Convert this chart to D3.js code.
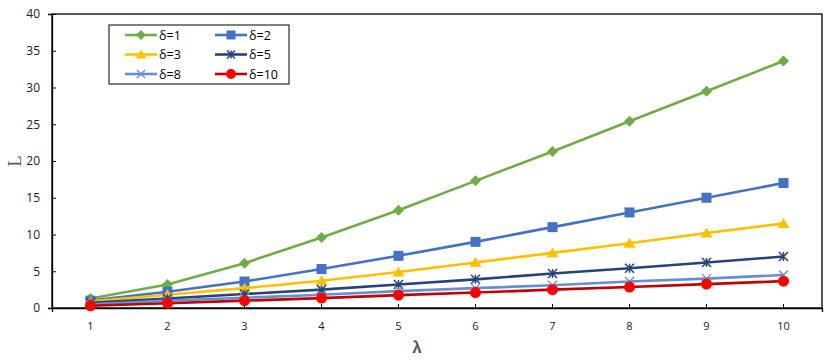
<!DOCTYPE html>
<html><head><meta charset="utf-8">
<script src="https://d3js.org/d3.v7.min.js"></script>
<style>body{margin:0;background:#fff;} svg{display:block;}</style>
</head><body>
<svg id="c" width="831" height="364"></svg>
<script>
const lambdas = [1,2,3,4,5,6,7,8,9,10];
const yTicks = [0,5,10,15,20,25,30,35,40];
const seriesNames = ["δ=1","δ=2","δ=3","δ=5","δ=8","δ=10"];
const d1  = [1.3, 3.2, 6.1, 9.6, 13.3, 17.3, 21.3, 25.4, 29.5, 33.6];
const d2  = [1.0, 2.2, 3.6, 5.3, 7.1, 9.0, 11.0, 13.0, 15.0, 17.0];
const d3v = [0.9, 1.8, 2.7, 3.7, 4.9, 6.2, 7.5, 8.8, 10.2, 11.5];
const d5  = [0.7, 1.3, 1.9, 2.5, 3.2, 3.9, 4.7, 5.4, 6.2, 7.0];
const d8  = [0.5, 1.0, 1.4, 1.8, 2.3, 2.7, 3.1, 3.6, 4.0, 4.5];
const d10 = [0.3, 0.65, 1.0, 1.35, 1.75, 2.1, 2.5, 2.85, 3.25, 3.65];
const colors = ["#70ad47","#4472c4","#ffc000","#264478","#698ed0","#ff0000"];
const lineColors = ["#70ad47","#4472c4","#ffc000","#264478","#698ed0","#c00000"];
const shapes = ["diamond","square","triangle","star","x","circle"];
const allData = [d1,d2,d3v,d5,d8,d10];

const svg = d3.select("#c");
const L = 52, R = 822, T = 14, B = 308;
const x = d3.scaleBand().domain(lambdas).range([L,R]);
const y = d3.scaleLinear().domain([0,40]).range([B,T]);
const font = "'Open Sans', 'Liberation Sans', Arial, sans-serif";

// box
svg.append("rect").attr("x",L).attr("y",T).attr("width",R-L).attr("height",B-T)
  .attr("fill","none").attr("stroke","#000").attr("stroke-width",1.3);

// y axis
const ya = svg.append("g").attr("transform",`translate(${L},0)`)
  .call(d3.axisLeft(y).tickValues(yTicks).tickSize(4).tickPadding(8));
ya.select(".domain").attr("stroke","#000").attr("stroke-width",1.3);
ya.selectAll(".tick line").attr("stroke","#000").attr("x2",4).attr("x1",0);
ya.selectAll("text").attr("font-family",font).attr("font-size",12).attr("fill","#222");

// x axis
const xa = svg.append("g").attr("transform",`translate(0,${B})`)
  .call(d3.axisBottom(x).tickSize(4).tickPadding(10));
xa.select(".domain").attr("stroke","#000").attr("stroke-width",1.3);
xa.selectAll(".tick line").attr("y1",-4).attr("y2",0).attr("stroke","#000");
xa.selectAll("text").attr("font-family",font).attr("font-size",11).attr("fill","#222");

// titles
svg.append("text").attr("transform","translate(21,161) rotate(-90)")
  .attr("text-anchor","middle").attr("font-family","'Liberation Serif', serif")
  .attr("font-size",18).attr("fill","#595959").text("L");
svg.append("text").attr("x",417).attr("y",353).attr("text-anchor","middle")
  .attr("font-family","'Liberation Sans', sans-serif").attr("font-weight","bold")
  .attr("font-size",17).attr("fill","#595959").text("λ");

function drawMarker(g, shape, cx, cy, col, scale){
  const s = scale||1;
  if(shape==="diamond"){
    const h=5.5*s;
    g.append("path").attr("d",`M${cx},${cy-h}L${cx+h},${cy}L${cx},${cy+h}L${cx-h},${cy}Z`).attr("fill",col);
  } else if(shape==="square"){
    const h=5*s; g.append("rect").attr("x",cx-h).attr("y",cy-h).attr("width",2*h).attr("height",2*h).attr("fill",col);
  } else if(shape==="triangle"){
    const h=5.5*s; g.append("path").attr("d",`M${cx},${cy-h}L${cx+h*1.1},${cy+h*0.8}L${cx-h*1.1},${cy+h*0.8}Z`).attr("fill",col);
  } else if(shape==="star"){
    const h=4.5*s;
    g.append("path").attr("d",`M${cx-h},${cy-h}L${cx+h},${cy+h}M${cx-h},${cy+h}L${cx+h},${cy-h}M${cx},${cy-h}L${cx},${cy+h}`)
      .attr("stroke",col).attr("stroke-width",1.5).attr("fill","none");
  } else if(shape==="x"){
    const h=4.5*s;
    g.append("path").attr("d",`M${cx-h},${cy-h}L${cx+h},${cy+h}M${cx-h},${cy+h}L${cx+h},${cy-h}`)
      .attr("stroke",col).attr("stroke-width",1.3).attr("fill","none");
  } else if(shape==="circle"){
    g.append("circle").attr("cx",cx).attr("cy",cy).attr("r",5.5*s).attr("fill",col);
  }
}

const line = d3.line().x((d,i)=>x(lambdas[i])+x.bandwidth()/2).y(d=>y(d));
allData.forEach((arr,k)=>{
  const g = svg.append("g");
  g.append("path").datum(arr).attr("d",line).attr("fill","none")
    .attr("stroke",lineColors[k]).attr("stroke-width",2.6);
  arr.forEach((v,i)=>drawMarker(g, shapes[k], x(lambdas[i])+x.bandwidth()/2, y(v), colors[k]));
});

// legend
const lg = svg.append("g");
lg.append("rect").attr("x",109).attr("y",25).attr("width",180).attr("height",59)
  .attr("fill","#fff").attr("stroke","#000").attr("stroke-width",1);
seriesNames.forEach((n,k)=>{
  const col = k%2, row = Math.floor(k/2);
  const lx = 125 + col*90, ly = 35 + row*19.5;
  lg.append("line").attr("x1",lx).attr("x2",lx+32).attr("y1",ly).attr("y2",ly)
    .attr("stroke",lineColors[k]).attr("stroke-width",2.6);
  drawMarker(lg, shapes[k], lx+16, ly, colors[k], 0.9);
  lg.append("text").attr("x",lx+34).attr("y",ly+4.5).attr("font-family",font)
    .attr("font-size",12.5).attr("fill","#000").text(n);
});
</script>
</body></html>
